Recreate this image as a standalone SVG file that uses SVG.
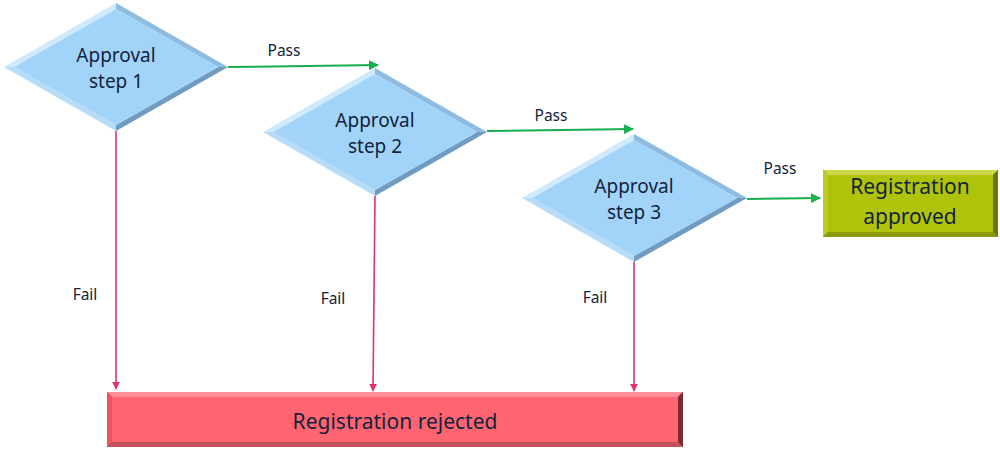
<svg xmlns="http://www.w3.org/2000/svg" width="1000" height="450" viewBox="0 0 1000 450">
<defs>
<style>
.lbl{font-family:"Noto Sans","Open Sans",sans-serif;fill:#14233c;text-anchor:middle}
.node{font-size:19px}
.big{font-size:21px}
.edge{font-size:15.5px}
.pass{stroke:#17b04e;stroke-width:2;fill:none;marker-end:url(#ag)}
.fail{stroke:#e0336c;stroke-width:1.6;fill:none;marker-end:url(#ar)}
.dmain{fill:#a2d4fa}
.dtl{fill:#cfeafd}
.dtr{fill:#8ebbe0}
.dbr{fill:#6f9cc0}
.dbl{fill:#b6dcf8}
</style>
<marker id="ag" viewBox="0 0 10 10" refX="9" refY="5" markerWidth="5" markerHeight="5" orient="auto"><path d="M0,0L10,5L0,10z" fill="#17b04e"/></marker>
<marker id="ar" viewBox="0 0 10 10" refX="9" refY="5" markerWidth="5" markerHeight="5" orient="auto"><path d="M0,0L10,5L0,10z" fill="#e0336c"/></marker>
</defs>
<g id="connectors">
<line class="pass" x1="228" y1="67" x2="378" y2="65"/>
<line class="pass" x1="487" y1="131" x2="633" y2="129"/>
<line class="pass" x1="747" y1="199" x2="820" y2="198"/>
<line class="fail" x1="116" y1="131" x2="116" y2="389"/>
<line class="fail" x1="375" y1="196" x2="373" y2="391"/>
<line class="fail" x1="634" y1="262" x2="634" y2="391"/>
<text class="lbl edge" x="284" y="56">Pass</text>
<text class="lbl edge" x="551" y="121">Pass</text>
<text class="lbl edge" x="780" y="174">Pass</text>
<text class="lbl edge" x="85" y="300">Fail</text>
<text class="lbl edge" x="333" y="304">Fail</text>
<text class="lbl edge" x="595" y="303">Fail</text>
</g>
<g id="step1" transform="translate(116,67)">
<polygon class="dtl" points="-112,0 0,-64 0,-58 -102,0"/>
<polygon class="dtr" points="0,-64 112,0 102,0 0,-58"/>
<polygon class="dbr" points="112,0 0,64 0,58 102,0"/>
<polygon class="dbl" points="0,64 -112,0 -102,0 0,58"/>
<polygon class="dmain" points="-102,0 0,-58 102,0 0,58"/>
<text class="lbl node" x="0" y="-5">Approval</text>
<text class="lbl node" x="0" y="21">step 1</text>
</g>
<g id="step2" transform="translate(375,132)">
<polygon class="dtl" points="-112,0 0,-64 0,-58 -102,0"/>
<polygon class="dtr" points="0,-64 112,0 102,0 0,-58"/>
<polygon class="dbr" points="112,0 0,64 0,58 102,0"/>
<polygon class="dbl" points="0,64 -112,0 -102,0 0,58"/>
<polygon class="dmain" points="-102,0 0,-58 102,0 0,58"/>
<text class="lbl node" x="0" y="-5">Approval</text>
<text class="lbl node" x="0" y="21">step 2</text>
</g>
<g id="step3" transform="translate(634,198)">
<polygon class="dtl" points="-112,0 0,-64 0,-58 -102,0"/>
<polygon class="dtr" points="0,-64 113,0 103,0 0,-58"/>
<polygon class="dbr" points="113,0 0,64 0,58 103,0"/>
<polygon class="dbl" points="0,64 -112,0 -102,0 0,58"/>
<polygon class="dmain" points="-102,0 0,-58 103,0 0,58"/>
<text class="lbl node" x="0" y="-5">Approval</text>
<text class="lbl node" x="0" y="21">step 3</text>
</g>
<g id="approved">
<rect x="823" y="170" width="175" height="67" fill="#7f8f08"/>
<polygon points="823,170 998,170 993,175 828,175" fill="#cbd84a"/>
<polygon points="823,170 828,175 828,232 823,237" fill="#bccb2a"/>
<polygon points="998,170 998,237 993,232 993,175" fill="#6b7806"/>
<polygon points="823,237 998,237 993,232 828,232" fill="#8a9b0a"/>
<rect x="828" y="175" width="165" height="57" fill="#afc30b"/>
<text class="lbl big" x="910" y="194">Registration</text>
<text class="lbl big" x="910" y="224">approved</text>
</g>
<g id="rejected">
<rect x="107" y="392" width="576" height="55" fill="#c44450"/>
<polygon points="107,392 683,392 678,397 112,397" fill="#ff8f96"/>
<polygon points="107,392 112,397 112,442 107,447" fill="#f0525e"/>
<polygon points="683,392 683,447 678,442 678,397" fill="#7a2a32"/>
<polygon points="107,447 683,447 678,442 112,442" fill="#c4505a"/>
<rect x="112" y="397" width="566" height="45" fill="#ff6570"/>
<text class="lbl big" x="395" y="429">Registration rejected</text>
</g>
</svg>
